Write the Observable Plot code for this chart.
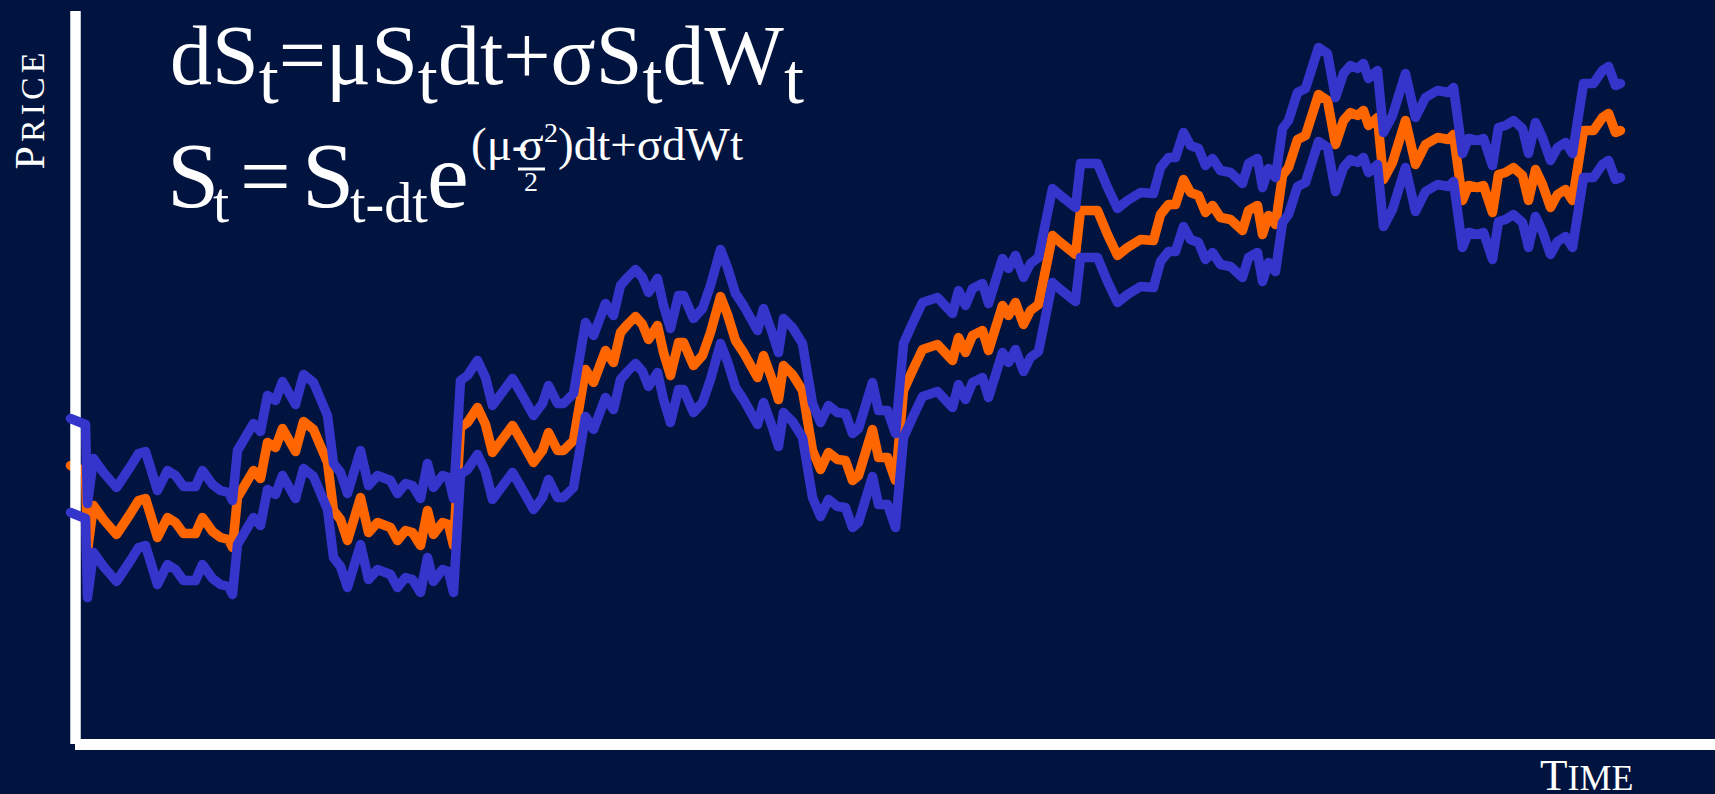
<!DOCTYPE html>
<html>
<head>
<meta charset="utf-8">
<script src="https://cdn.jsdelivr.net/npm/d3@7"></script>
<script src="https://cdn.jsdelivr.net/npm/@observablehq/plot@0.6"></script>
<style>
  html, body { margin: 0; padding: 0; background: #011440; overflow: hidden; }
  #chart svg { display: block; }
</style>
</head>
<body>
<div id="chart"></div>
<script>
// Time steps (arbitrary units)
const time = [
  -5,10,12,18,28,41,55,63,70,82,
  92,100,108,120,127,137,145,153,157,162,
  178,185,192,200,207,220,228,238,252,258,
  265,272,285,293,302,315,322,330,337,345,
  352,358,367,373,378,385,392,402,410,417,
  437,448,458,467,473,482,488,498,510,518,
  530,538,545,552,560,567,573,582,588,595,
  603,608,618,627,635,645,652,660,668,682,
  688,697,703,708,717,727,737,745,753,762,
  770,777,783,797,803,812,820,828,837,847,
  862,877,883,890,897,907,913,927,933,940,
  948,955,963,977,985,1000,1005,1022,1032,1042,
  1052,1065,1078,1085,1093,1100,1108,1115,1123,1130,
  1137,1145,1155,1167,1173,1182,1187,1193,1200,1207,
  1213,1222,1230,1243,1252,1260,1268,1275,1282,1288,
  1293,1302,1308,1317,1330,1340,1350,1362,1373,1378,
  1387,1393,1402,1408,1417,1423,1430,1438,1447,1453,
  1460,1467,1475,1482,1490,1497,1508,1518,1527,1533,
  1540,1545
];
// Upper band (blue)
const upper = [
  326,320,241,286,272,257,278,291,293,254,
  274,269,258,258,274,260,254,252,244,294,
  321,313,349,344,363,340,370,362,329,281,
  272,251,294,259,269,264,251,261,259,246,
  281,257,269,267,246,364,369,384,367,339,
  366,347,329,341,359,341,341,351,422,409,
  441,429,459,467,475,467,452,466,439,416,
  449,449,426,436,459,495,477,451,439,414,
  436,411,392,426,417,401,341,322,339,332,
  331,311,316,362,334,334,311,401,421,442,
  447,431,454,439,456,461,441,486,476,489,
  467,481,487,556,549,537,581,581,557,536,
  544,552,551,577,587,587,612,599,596,579,
  586,574,572,561,581,586,557,576,567,616,
  624,652,656,697,691,647,671,679,676,681,
  666,674,612,629,671,627,647,654,652,657,
  591,606,604,606,579,617,619,624,616,591,
  622,607,584,597,602,591,661,661,674,678,
  659,661
];
// Simulated price path (orange)
const price = [
  279,273,194,239,225,210,231,244,246,207,
  227,222,211,211,227,213,207,205,197,247,
  274,266,302,297,316,293,323,315,282,234,
  225,204,247,212,222,217,204,214,212,199,
  234,210,222,220,199,317,322,337,320,292,
  319,300,282,294,312,294,294,304,375,362,
  394,382,412,420,428,420,405,419,392,369,
  402,402,379,389,412,448,430,404,392,367,
  389,364,345,379,370,354,294,275,292,285,
  284,264,269,315,287,287,264,354,374,395,
  400,384,407,392,409,414,394,439,429,442,
  420,434,440,509,502,490,534,534,510,489,
  497,505,504,530,540,540,565,552,549,532,
  539,527,525,514,534,539,510,529,520,569,
  577,605,609,650,644,600,624,632,629,634,
  619,627,565,582,624,580,600,607,605,610,
  544,559,557,559,532,570,572,577,569,544,
  575,560,537,550,555,544,614,614,627,631,
  612,614
];
// Lower band (blue)
const lower = [
  232,226,147,192,178,163,184,197,199,160,
  180,175,164,164,180,166,160,158,150,200,
  227,219,255,250,269,246,276,268,235,187,
  178,157,200,165,175,170,157,167,165,152,
  187,163,175,173,152,270,275,290,273,245,
  272,253,235,247,265,247,247,257,328,315,
  347,335,365,373,381,373,358,372,345,322,
  355,355,332,342,365,401,383,357,345,320,
  342,317,298,332,323,307,247,228,245,238,
  237,217,222,268,240,240,217,307,327,348,
  353,337,360,345,362,367,347,392,382,395,
  373,387,393,462,455,443,487,487,463,442,
  450,458,457,483,493,493,518,505,502,485,
  492,480,478,467,487,492,463,482,473,522,
  530,558,562,603,597,553,577,585,582,587,
  572,580,518,535,577,533,553,560,558,563,
  497,512,510,512,485,523,525,530,522,497,
  528,513,490,503,508,497,567,567,580,584,
  565,567
];

const xLabel = "Time";
const yLabel = "Price";

const rows = time.map((t, i) => ({t, upper: upper[i], price: price[i], lower: lower[i]}));

const BG = "#011440", BLUE = "#3535cc", ORANGE = "#ff6600";

const chart = Plot.plot({
  width: 1715,
  height: 794,
  marginLeft: 75,
  marginRight: 0,
  marginTop: 11,
  marginBottom: 50,
  style: {background: BG, overflow: "visible"},
  x: {domain: [0, 1640], axis: null},
  y: {domain: [0, 733], axis: null},
  marks: [
    Plot.line(rows, {x: "t", y: "price", stroke: ORANGE, strokeWidth: 9.5, strokeLinejoin: "round", strokeLinecap: "round"}),
    Plot.ruleX([0], {stroke: "white", strokeWidth: 10.5}),
    Plot.ruleY([0], {stroke: "white", strokeWidth: 11}),
    Plot.line(rows, {x: "t", y: "upper", stroke: BLUE, strokeWidth: 9.5, strokeLinejoin: "round", strokeLinecap: "round"}),
    Plot.line(rows, {x: "t", y: "lower", stroke: BLUE, strokeWidth: 9.5, strokeLinejoin: "round", strokeLinecap: "round"})
  ]
});
document.getElementById("chart").appendChild(chart);

// Annotations: formulas and axis labels
const svg = d3.select(chart);
const g = svg.append("g")
  .attr("fill", "white")
  .attr("text-anchor", "start")
  .attr("font-family", "'Liberation Serif', 'DejaVu Serif', serif");

// Line 1: dS_t = μ S_t dt + σ S_t dW_t
const l1 = g.append("text").attr("x", 170).attr("y", 84).attr("font-size", 84);
const parts1 = [["dS", 0], ["t", 1], ["=μS", 0], ["t", 1], ["dt+σS", 0], ["t", 1], ["dW", 0], ["t", 1]];
let prevSub = 0;
parts1.forEach(([s, sub]) => {
  const ts = l1.append("tspan").text(s).attr("dy", (sub - prevSub) * 19);
  if (sub) ts.attr("font-size", 72);
  prevSub = sub;
});

// Line 2: S_t = S_{t-dt} e^{(μ - σ²/2)dt + σdWt}
const base2 = 207;
g.append("text").attr("x", 167).attr("y", base2).attr("font-size", 94).text("S");
g.append("text").attr("x", 213).attr("y", base2 + 15).attr("font-size", 58).text("t");
g.append("text").attr("x", 240).attr("y", base2).attr("font-size", 90).text("=");
g.append("text").attr("x", 302).attr("y", base2).attr("font-size", 94).text("S");
g.append("text").attr("x", 350).attr("y", base2 + 15).attr("font-size", 56).text("t-dt");
g.append("text").attr("x", 427).attr("y", base2).attr("font-size", 94).text("e");

// exponent
const eb = 160;
g.append("text").attr("x", 471).attr("y", eb).attr("font-size", 47).text("(μ-");
g.append("text").attr("x", 531).attr("y", eb).attr("font-size", 47).attr("text-anchor", "middle").text("σ");
g.append("line").attr("x1", 518).attr("x2", 545).attr("y1", eb + 9).attr("y2", eb + 9)
  .attr("stroke", "white").attr("stroke-width", 3);
g.append("text").attr("x", 531).attr("y", eb + 31).attr("font-size", 28).attr("text-anchor", "middle").text("2");
g.append("text").attr("x", 544).attr("y", eb - 18).attr("font-size", 28).text("2");
g.append("text").attr("x", 558).attr("y", eb).attr("font-size", 47).text(")dt+σdWt");

// Axis labels (small caps)
const yl = g.append("text")
  .attr("transform", "translate(44,109) rotate(-90)")
  .attr("text-anchor", "middle")
  .attr("letter-spacing", 4)
  .attr("font-size", 42);
yl.append("tspan").text(yLabel[0]);
yl.append("tspan").attr("font-size", 34).text(yLabel.slice(1).toUpperCase());

const xl = g.append("text")
  .attr("x", 1540).attr("y", 790)
  .attr("font-size", 45);
xl.append("tspan").text(xLabel[0]);
xl.append("tspan").attr("font-size", 36).text(xLabel.slice(1).toUpperCase());
</script>
</body>
</html>
